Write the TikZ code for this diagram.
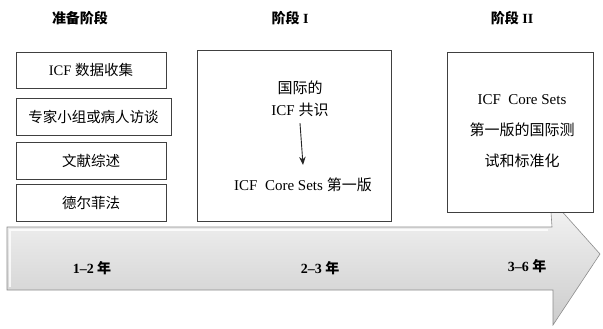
\documentclass[tikz,border=0pt]{standalone}
\usepackage{fontspec}
\setmainfont{Liberation Serif}
\newfontfamily\cjk{Noto Sans CJK SC}
\usetikzlibrary{arrows.meta}
\newcommand{\zh}[1]{{\cjk #1}}
\tikzset{
  ttl/.style={font=\fontsize{14}{16}\selectfont\bfseries, inner sep=0pt},
  pbox/.style={draw=black!75, line width=0.6pt, fill=white, inner sep=0pt,
    font=\fontsize{14.5}{17}\selectfont},
  bigbox/.style={draw=black!75, line width=0.6pt, fill=white, inner sep=0pt},
  txt/.style={inner sep=0pt, align=center, font=\fontsize{15}{22}\selectfont},
  yr/.style={inner sep=0pt, font=\fontsize{14}{16}\selectfont\bfseries},
  flow/.style={draw=black!85, line width=0.9pt, -{Stealth[length=8pt,width=6.5pt]}},
  band/.style={draw=black!45, line width=0.6pt, top color=gray!8, middle color=gray!20, bottom color=gray!40}
}
\begin{document}
\begin{tikzpicture}[x=1pt,y=-1pt]
\useasboundingbox (0,0) rectangle (603,329);
% timeline arrow
\path[band] (7,227) -- (552,227) -- (550,198) -- (600,254) -- (553,325) -- (553,290) -- (7,290) -- cycle;
\draw[white, line width=1.2pt, opacity=0.8] (10,287) -- (10,230) -- (548,230);
% titles
\node[ttl] (t0) at (80,18) {\zh{准备阶段}};
\node[ttl] (t1) at (290,18) {\zh{阶段} I};
\node[ttl] (t2) at (512,18) {\zh{阶段} II};
% preparation boxes
\node[pbox, minimum width=150pt, minimum height=36pt] (p1) at (91,70) {ICF \zh{数据收集}};
\node[pbox, minimum width=155pt, minimum height=37pt] (p2) at (93.5,116.5) {\zh{专家小组或病人访谈}};
\node[pbox, minimum width=150pt, minimum height=37pt] (p3) at (91,160.5) {\zh{文献综述}};
\node[pbox, minimum width=150pt, minimum height=37pt] (p4) at (91,202.5) {\zh{德尔菲法}};
% stage I
\node[bigbox, minimum width=194pt, minimum height=171pt] (m) at (294,135.5) {};
\node[txt] (a1) at (300,99) {\zh{国际的}\\ICF \zh{共识}};
\node[txt] (a2) at (303,185) {ICF\ \ Core Sets \zh{第一版}};
\draw[flow] ([yshift=-6pt]a1.south) -- ([yshift=13pt]a2.north);
% stage II
\node[bigbox, minimum width=146pt, minimum height=160pt] (r) at (520,132) {};
\node[txt, font=\fontsize{15}{31}\selectfont] (b1) at (522,131) {ICF\ \ Core Sets\\\zh{第一版的国际测}\\\zh{试和标准化}};
% years
\node[yr] (y1) at (92,268) {1--2 \zh{年}};
\node[yr] (y2) at (320,268) {2--3 \zh{年}};
\node[yr] (y3) at (527,266) {3--6 \zh{年}};
\end{tikzpicture}
\end{document}
